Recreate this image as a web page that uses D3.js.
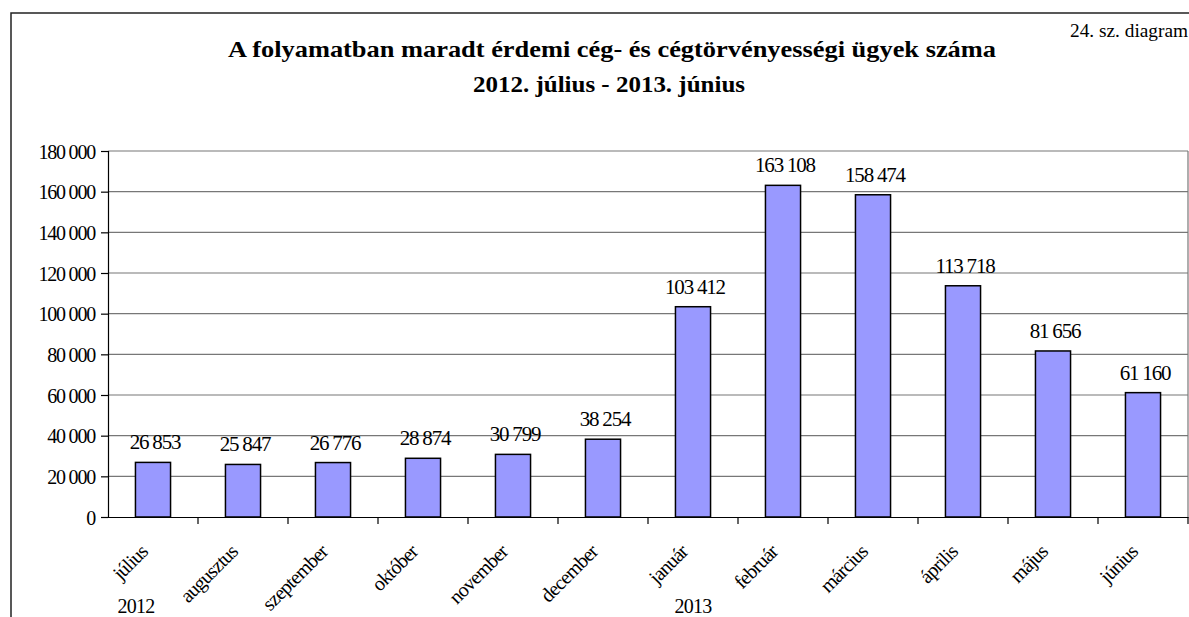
<!DOCTYPE html>
<html><head><meta charset="utf-8">
<script src="https://cdn.jsdelivr.net/npm/d3@7"></script>
<style>
body{margin:0;background:#fff;}
</style></head>
<body>
<svg id="c" width="1189" height="617"></svg>
<script>
const categories = ["július","augusztus","szeptember","október","november","december","január","február","március","április","május","június"];
const values = [26853,25847,26776,28874,30799,38254,103412,163108,158474,113718,81656,61160];
const yTicks = [0,20000,40000,60000,80000,100000,120000,140000,160000,180000];
const yearLabels = [{label:"2012", cat:"július", dx:-17}, {label:"2013", cat:"január", dx:0}];
const titleLines = ["A folyamatban maradt érdemi cég- és cégtörvényességi ügyek száma","2012. július - 2013. június"];
const cornerNote = "24. sz. diagram";

const FONT = "'Liberation Serif', 'Times New Roman', Times, serif";
const svg = d3.select("#c");
const W = 1189, H = 617;
const m = {left:108, right:1188, top:151, bottom:517};

const loc = d3.formatLocale({decimal:",", thousands:" ", grouping:[3], currency:["",""]});
const fmt = loc.format(",d");

svg.append("path").attr("d",`M11,${H+5}V13H${W+5}`).attr("fill","none").attr("stroke","#222").attr("stroke-width",1.5);

const x = d3.scaleBand().domain(categories).range([m.left,m.right]).paddingInner(0.61).paddingOuter(0.305);
const xb = d3.scaleBand().domain(categories).range([m.left,m.right]);
const y = d3.scaleLinear().domain([0,180000]).range([m.bottom,m.top]);

svg.append("g").selectAll("line").data(yTicks.filter(d=>d>0)).join("line")
  .attr("x1",m.left).attr("x2",m.right).attr("y1",d=>y(d)).attr("y2",d=>y(d))
  .attr("stroke","#777").attr("stroke-width",1.2);
svg.append("line").attr("x1",m.right).attr("x2",m.right).attr("y1",m.top).attr("y2",m.bottom).attr("stroke","#777").attr("stroke-width",1.2);

svg.append("g").selectAll("rect").data(values).join("rect")
  .attr("x",(d,i)=>x(categories[i])).attr("width",x.bandwidth())
  .attr("y",d=>y(d)).attr("height",d=>y(0)-y(d))
  .attr("fill","#9999FF").attr("stroke","#000").attr("stroke-width",1.5);

const ya = d3.axisLeft(y).tickValues(yTicks).tickSize(7).tickFormat(fmt);
const yg = svg.append("g").attr("transform",`translate(${m.left},0)`).call(ya);
yg.attr("font-family",FONT).attr("font-size",20);
yg.select(".domain").attr("stroke","#000").attr("stroke-width",1.2);
yg.selectAll(".tick line").attr("stroke","#000").attr("stroke-width",1.2);
yg.selectAll(".tick text").attr("font-family",FONT).attr("font-size",20).attr("letter-spacing","-1.2px").attr("fill","#000").attr("x",-13).attr("dy","0.36em");

const xa = d3.axisBottom(xb).tickSize(0).tickFormat("");
const xg = svg.append("g").attr("transform",`translate(0,${m.bottom})`).call(xa);
xg.select(".domain").attr("stroke","#000").attr("stroke-width",1.2);
xg.selectAll(".tick").remove();
svg.append("g").selectAll("line").data(categories).join("line")
  .attr("x1",d=>xb(d)+xb.bandwidth()).attr("x2",d=>xb(d)+xb.bandwidth())
  .attr("y1",m.bottom).attr("y2",m.bottom+7).attr("stroke","#000").attr("stroke-width",1.2);

svg.append("g").attr("font-family",FONT).selectAll("text").data(categories).join("text")
  .attr("transform",d=>`translate(${xb(d)+xb.bandwidth()/2-4},${m.bottom+36}) rotate(-45)`)
  .attr("text-anchor","end").attr("font-size",20).attr("letter-spacing","-0.8px").attr("fill","#000")
  .text(d=>d);

svg.append("g").attr("font-family",FONT).selectAll("text").data(yearLabels).join("text")
  .attr("x",d=>xb(d.cat)+xb.bandwidth()/2+d.dx).attr("y",H-4)
  .attr("text-anchor","middle").attr("font-size",20).attr("letter-spacing","-0.8px").text(d=>d.label);

svg.append("g").attr("font-family",FONT).selectAll("text").data(values).join("text")
  .attr("x",(d,i)=>xb(categories[i])+xb.bandwidth()/2+2).attr("y",d=>y(d)-13)
  .attr("text-anchor","middle").attr("font-size",21).attr("letter-spacing","-1.2px").attr("fill","#000")
  .text(d=>fmt(d));

const titleSpec = [{cx:612, y:57, len:768},{cx:609, y:92, len:272}];
svg.append("g").attr("font-family",FONT).selectAll("text").data(titleLines).join("text")
  .attr("x",(d,i)=>titleSpec[i].cx - titleSpec[i].len/2).attr("y",(d,i)=>titleSpec[i].y)
  .attr("font-weight","bold").attr("font-size",23)
  .attr("textLength",(d,i)=>titleSpec[i].len).attr("lengthAdjust","spacingAndGlyphs")
  .text(d=>d);
svg.append("text").attr("font-family",FONT).attr("x",1070).attr("y",37).attr("font-size",18)
  .attr("textLength",118).attr("lengthAdjust","spacingAndGlyphs").text(cornerNote);
</script>
</body></html>
